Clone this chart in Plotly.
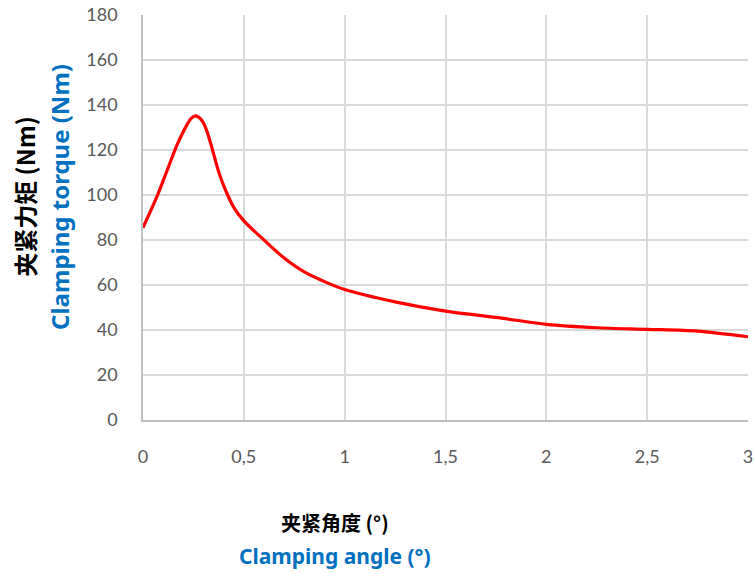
import plotly.graph_objects as go

angle = [0, 0.07, 0.12, 0.17, 0.22, 0.24, 0.26, 0.28, 0.3, 0.32, 0.34, 0.36, 0.38, 0.41, 0.45, 0.5,
         0.6, 0.7, 0.8, 0.9, 1.0, 1.25, 1.5, 1.75, 2.0, 2.25, 2.5, 2.75, 3.0]
torque = [85.5, 99.5, 111, 122.5, 131.5, 134.2, 135.2, 134.3, 132, 127.5, 121.5, 115, 109, 102, 94.5, 88.5,
          80, 72, 65.8, 61.5, 58, 52.5, 48.4, 45.6, 42.5, 41, 40.3, 39.5, 37]

x_ticks = [0, 0.5, 1, 1.5, 2, 2.5, 3]
x_labels = ["0", "0,5", "1", "1,5", "2", "2,5", "3"]
y_ticks = list(range(0, 181, 20))

fig = go.Figure()
fig.add_trace(go.Scatter(x=angle, y=torque, mode="lines",
                         line=dict(color="#ff0000", width=3.2, shape="spline", smoothing=0.8),
                         hoverinfo="skip", showlegend=False))

tickfont = dict(family="Lato, Liberation Sans, sans-serif", size=18, color="#595959")
fig.update_layout(
    width=755, height=573,
    margin=dict(l=143, r=7, t=15, b=153),
    plot_bgcolor="white", paper_bgcolor="white",
    showlegend=False,
    xaxis=dict(range=[0, 3], tickvals=x_ticks, ticktext=x_labels, tickfont=tickfont,
               showgrid=True, gridcolor="#d9d9d9", gridwidth=1.5,
               showline=True, linecolor="#bfbfbf", linewidth=1.5, zeroline=False,
               ticks="", ticklabelstandoff=20, automargin=False),
    yaxis=dict(range=[0, 180], tickvals=y_ticks, tickfont=tickfont,
               showgrid=True, gridcolor="#d9d9d9", gridwidth=1.5,
               showline=True, linecolor="#bfbfbf", linewidth=1.5, zeroline=False,
               ticks="", ticklabelstandoff=20, automargin=False),
)

cjk = "Noto Sans CJK SC, Noto Sans, sans-serif"
latin = "Noto Sans, Lato, sans-serif"
ann = [
    dict(text="<b>夹紧力矩 (Nm)</b>", x=-0.195, y=0.551, textangle=-90,
         font=dict(family=cjk, size=24, color="#000000")),
    dict(text="<b>Clamping torque (Nm)</b>", x=-0.137, y=0.551, textangle=-90,
         font=dict(family=latin, size=24, color="#0070c0")),
    dict(text="<b>夹紧角度 (°)</b>", x=0.317, y=-0.252,
         font=dict(family=cjk, size=20, color="#000000")),
    dict(text="<b>Clamping angle (°)</b>", x=0.317, y=-0.336,
         font=dict(family=latin, size=21, color="#0070c0")),
]
for a in ann:
    fig.add_annotation(xref="paper", yref="paper", showarrow=False,
                       xanchor="center", yanchor="middle", **a)

fig.write_html("out.html", config={"displayModeBar": False},
               post_script="document.body.style.margin='0';document.body.style.overflow='hidden';")
